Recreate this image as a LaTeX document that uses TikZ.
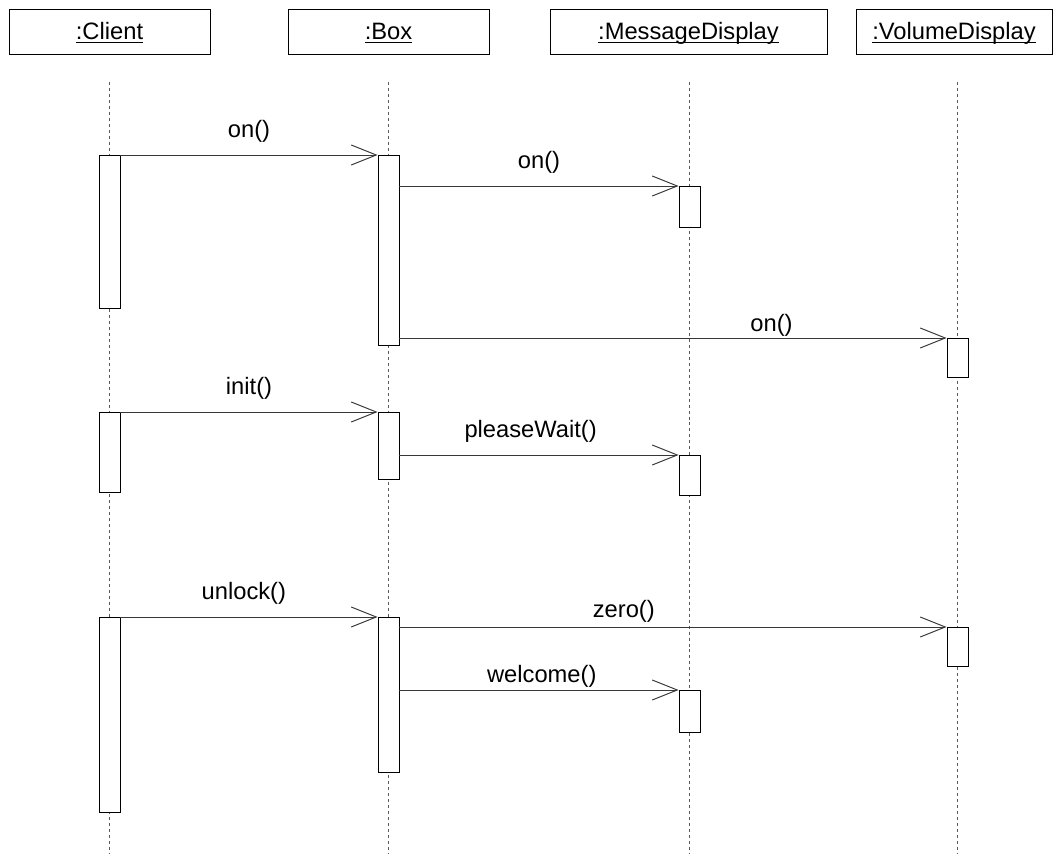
\documentclass[tikz,border=0pt]{standalone}
\usepackage{fontspec}
\setmainfont{Liberation Sans}
\usetikzlibrary{arrows.meta, calc}
\definecolor{lifegray}{RGB}{90,90,90}
\definecolor{linegray}{RGB}{55,55,55}
\newcommand{\objname}[1]{\underline{\raisebox{0pt}[\height][0pt]{#1}}}

\begin{document}
\begin{tikzpicture}[x=0.02cm, y=-0.02cm, line width=0.55pt,
   every node/.style={font=\fontsize{13.5}{16}\selectfont},
   obj/.style={rectangle, draw, minimum height=0.9cm, inner sep=0pt, text height=12pt, text depth=2.4pt},
   act/.style={rectangle, draw, fill=white, minimum width=0.42cm, anchor=north, inner sep=0pt},
   call/.style={draw=linegray, -{Straight Barb[length=0.5cm, width=0.4cm]}},
   lbl/.style={inner sep=0pt, above=#1}, lbl/.default=0.24cm,
   life/.style={lifegray, dash pattern=on 1.7pt off 1.7pt}]
  \useasboundingbox (0,0) rectangle (1054,854);

  % objects
  \node[obj, minimum width=4.02cm] (client) at (109.5,31.5) {\objname{:Client}};
  \node[obj, minimum width=4.02cm] (box) at (388.5,31.5) {\objname{:Box}};
  \node[obj, minimum width=5.54cm] (msgdisp) at (688.5,31.5) {\objname{:MessageDisplay}};
  \node[obj, minimum width=3.92cm] (voldisp) at (954,31.5) {\objname{:VolumeDisplay}};

  % lifelines
  \foreach \n/\x in {cl/109.5, bx/388.5, md/689.5, vd/957.5} {
    \coordinate (\n top) at (\x,82);
    \coordinate (\n bot) at (\x,854);
    \draw[life] (\n top) -- (\n bot);
  }

  % activations
  \node[act, minimum height=3.06cm] (c1) at (109.5,155) {};
  \node[act, minimum height=1.6cm] (c2) at (109.5,412) {};
  \node[act, minimum height=3.9cm] (c3) at (109.5,617) {};
  \node[act, minimum height=3.8cm] (b1) at (388.5,155) {};
  \node[act, minimum height=1.34cm] (b2) at (388.5,412) {};
  \node[act, minimum height=3.1cm] (b3) at (388.5,617) {};
  \node[act, minimum height=0.82cm] (m1) at (689.5,186) {};
  \node[act, minimum height=0.8cm] (m2) at (689.5,455) {};
  \node[act, minimum height=0.84cm] (m3) at (689.5,690) {};
  \node[act, minimum height=0.78cm] (v1) at (957.5,338) {};
  \node[act, minimum height=0.78cm] (v2) at (957.5,627) {};

  % switching on
  \draw[call] (c1.north east) -- node[lbl] {on()} (b1.north west);
  \draw[call] (b1.east |- m1.north) -- node[lbl] {on()} (m1.north west);
  \draw[call] (b1.east |- v1.north) -- node[lbl=0.02cm, pos=0.68] {on()} (v1.north west);

  % init
  \draw[call] (c2.north east) -- node[lbl] {init()} (b2.north west);
  \draw[call] (b2.east |- m2.north) -- node[lbl, pos=0.47] {pleaseWait()} (m2.north west);

  % unlock
  \draw[call] (c3.north east) -- node[lbl, pos=0.48] {unlock()} (b3.north west);
  \draw[call] (b3.east |- v2.north) -- node[lbl=0.08cm, pos=0.41] {zero()} (v2.north west);
  \draw[call] (b3.east |- m3.north) -- node[lbl=0.04cm, pos=0.51] {welcome()} (m3.north west);
\end{tikzpicture}
\end{document}
